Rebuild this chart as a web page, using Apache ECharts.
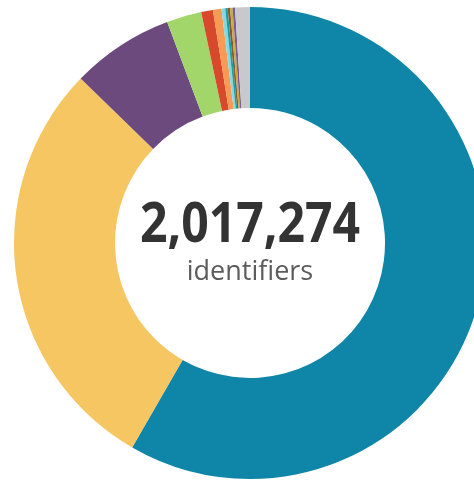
<!DOCTYPE html>
<html lang="en">

<head>
  <meta charset="UTF-8">
  <title>identifiers</title>
  <script src="https://cdn.jsdelivr.net/npm/echarts@6/dist/echarts.min.js"></script>
</head>
<style>
  * {
    margin: 0px;
    padding: 0px;
  }

  #chart {
    width: 474px;
    height: 480px;
  }
</style>

<body>
  <div id="chart"></div>
</body>
<script>
  // slices, clockwise from 12 o'clock
  var names = ['A', 'B', 'C', 'D', 'E', 'F', 'G', 'H', 'I', 'J', 'K', 'L'];
  var values = [1176479, 583885, 141770, 48190, 16250, 11770, 5040, 3360, 3360, 3360, 3360, 20450];
  var colors = ['#0f86a8', '#f5c661', '#6d4a7e', '#a2d66b', '#d8482b', '#f99a54', '#86d8e2', '#16a0ae',
    '#8a5a2e', '#c9ab3c', '#7a5c9a', '#c9c9cd'];

  var total = values.reduce(function (a, b) { return a + b }, 0);

  var chart = echarts.init(document.getElementById('chart'));
  chart.setOption({
    animation: false,
    graphic: [{
      type: 'text',
      x: 250,
      y: 226,
      scaleX: 0.86,
      style: {
        text: total.toLocaleString('en-US'),
        font: 'bold 56px "Open Sans", sans-serif',
        fill: '#333333',
        align: 'center',
        verticalAlign: 'middle'
      }
    }, {
      type: 'text',
      x: 250,
      y: 272,
      style: {
        text: 'identifiers',
        font: '27px "Open Sans", sans-serif',
        fill: '#5c5c5c',
        align: 'center',
        verticalAlign: 'middle'
      }
    }],
    series: [{
      type: 'pie',
      center: [250, 243],
      radius: [135, 236],
      startAngle: 90,
      clockwise: true,
      label: { show: false },
      labelLine: { show: false },
      emphasis: { disabled: true },
      data: values.map(function (v, i) {
        return { name: names[i], value: v, itemStyle: { color: colors[i] } };
      })
    }]
  });
</script>

</html>
